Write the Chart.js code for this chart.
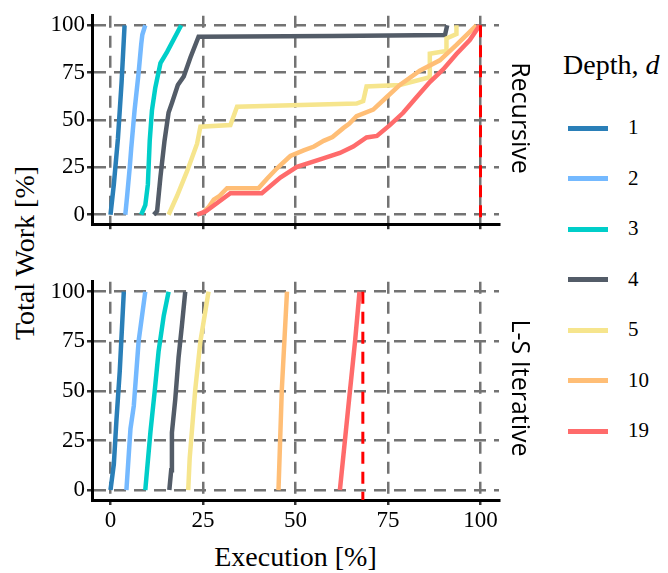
<!DOCTYPE html>
<html><head><meta charset="utf-8">
<script src="https://cdn.jsdelivr.net/npm/chart.js@4"></script>
<style>
body{margin:0;background:#fff;width:668px;height:573px;overflow:hidden;position:relative;font-family:"Liberation Serif","Times New Roman",serif;}
canvas{position:absolute}
.t{position:absolute;white-space:nowrap;color:#000;line-height:1}
.facet{font-family:"Open Sans",sans-serif;font-size:25px}
.lg{position:absolute;left:568px;width:40px;height:5px}
.ll{position:absolute;left:628px;font-size:21px;line-height:21px}
</style></head><body>
<canvas id="c1" style="left:40px;top:0;width:470px;height:240px" width="470" height="240"></canvas>
<canvas id="c2" style="left:40px;top:266px;width:470px;height:274px" width="470" height="274"></canvas>
<div class="t" style="left:25px;top:253px;font-size:28px;transform:translate(-50%,-50%) rotate(-90deg)">Total Work [%]</div>
<div class="t" style="left:295.5px;top:543px;font-size:28px;line-height:28px;transform:translateX(-50%)">Execution [%]</div>
<div class="t facet" style="left:521px;top:118px;transform:translate(-50%,-50%) rotate(90deg)">Recursive</div>
<div class="t facet" style="left:521px;top:388px;transform:translate(-50%,-50%) rotate(90deg)">L-S Iterative</div>
<div class="t" style="left:563px;top:51px;font-size:28px;line-height:28px">Depth, <i>d</i></div>
<div id="legend"></div>
<script>
// ---- data ----
const depths = ['1', '2', '3', '4', '5', '10', '19'];
const colors = ['#2a7fb8', '#74b9ff', '#00cec9', '#535c68', '#f6e58d', '#ffbe76', '#ff6b6b'];
const xTicks = [0, 25, 50, 75, 100];
const yTicks = [0, 25, 50, 75, 100];

// Recursive panel: [execution %, total work %]
const rec_d1 = [[0,0],[0.9,16],[2,40],[3,70],[3.8,100]];
const rec_d2 = [[4,0],[4.5,10],[5.2,25],[5.6,35],[6.5,55],[7.6,75],[8.3,90],[8.6,95],[9.4,100]];
const rec_d3 = [[8.3,0],[9.4,5],[10.1,16],[10.6,39],[11.2,55],[12.1,67],[13.5,80],[15.3,86],[19.1,100]];
const rec_d4 = [[11.7,0],[12.6,2],[13.5,20],[14.6,39],[15.7,54],[16.6,59],[18.2,68.5],[19.8,73],[21.6,83],[23.8,94],[60,94.3],[90.4,94.8],[91,100]];
const rec_d5 = [[15.7,0],[18,10],[20.7,23],[23.4,37.5],[24.3,46.5],[32.4,47.3],[34.2,57],[66.5,58.7],[68.3,60],[69.2,67.7],[78.2,68.5],[86.3,72.6],[86.3,85],[90.8,86.5],[90.8,93],[93.5,95.4],[93.5,100]];
const rec_d10 = [[25,1],[26.5,4],[27.9,8],[29.5,10],[31.5,14],[40,14],[42.3,19],[45,24.5],[48.6,31],[52.2,34],[55,36],[57.6,39],[60,41],[62.9,45.7],[64.5,48],[66.5,52],[71,55.5],[74.6,62],[78.2,68.5],[83.6,76],[89,81.5],[93.5,89.7],[98.9,100]];
const rec_d19 = [[23.4,0],[25.6,1.6],[32.4,11.4],[40.9,11.4],[45.9,19.6],[50.4,25.3],[57.5,29.7],[62,32.6],[65.6,36],[69.2,40.8],[72,41.6],[75.5,47.3],[79.1,53.8],[82.7,62],[86.3,70],[89.9,76.7],[93.5,84.8],[97.1,92.2],[99.8,100]];
const rec_vline = 100;

// L-S Iterative panel
const it_d1 = [[0,0],[0.9,13],[1.6,35],[2.5,60],[3.6,100]];
const it_d2 = [[4.3,0],[5.4,31],[6.3,42.5],[7.6,75],[9.4,100]];
const it_d3 = [[9.4,0],[10.8,29.4],[11.9,49],[13,70],[14.4,88],[15.7,100]];
const it_d4 = [[15.9,0],[16.4,10],[16.6,29],[17.5,45.7],[18.4,67],[19.3,83],[20.2,100]];
const it_d5 = [[21,0],[21.4,16],[22.9,50.6],[24.3,75],[26.5,100]];
const it_d10 = [[45.4,0],[46.3,50.6],[47.7,100]];
const it_d19 = [[62,0],[64.3,42.4],[66.1,75],[67.3,100]];
const it_vline = 68.2;

const recSeries = [rec_d1, rec_d2, rec_d3, rec_d4, rec_d5, rec_d10, rec_d19];
const itSeries = [it_d1, it_d2, it_d3, it_d4, it_d5, it_d10, it_d19];

// ---- legend ----
const legend = document.getElementById('legend');
depths.forEach((d, i) => {
  const c = 128 + i * 50.5;
  const line = document.createElement('div');
  line.className = 'lg';
  line.style.top = (c - 2.5) + 'px';
  line.style.background = colors[i];
  legend.appendChild(line);
  const lab = document.createElement('div');
  lab.className = 't ll';
  lab.style.top = (c - 11) + 'px';
  lab.textContent = d;
  legend.appendChild(lab);
});

// ---- charts ----
const FONT = "'Liberation Serif', 'Times New Roman', serif";
function makeChart(id, series, vline, showXLabels, xAxisHeight, padTop) {
  const datasets = series.map((pts, i) => ({
    data: pts.map(p => ({x: p[0], y: p[1]})),
    borderColor: colors[i],
    borderWidth: 4.5,
    pointRadius: 0,
    tension: 0,
    fill: false,
    order: 10 - i
  }));
  datasets.push({
    data: [{x: vline, y: 100}, {x: vline, y: -5}],
    borderColor: '#ff0000',
    borderWidth: 3,
    borderDash: [12, 8],
    pointRadius: 0,
    fill: false,
    order: 0
  });
  const gridOpts = {color: '#737373', lineWidth: 2.5, tickLength: 5, tickColor: '#333', tickWidth: 2.5};
  const borderOpts = {color: '#000', width: 3, dash: [12, 8]};
  new Chart(document.getElementById(id), {
    type: 'line',
    data: {datasets},
    options: {
      responsive: false,
      animation: false,
      events: [],
      layout: {padding: {top: padTop, right: 11, left: 0, bottom: 0}},
      plugins: {legend: {display: false}, tooltip: {enabled: false}},
      scales: {
        x: {
          type: 'linear', min: -5, max: 105,
          afterBuildTicks: s => { s.ticks = xTicks.map(v => ({value: v})); },
          afterFit: s => { s.height = xAxisHeight; },
          grid: gridOpts, border: borderOpts,
          ticks: {display: showXLabels, color: '#000', padding: 2, maxRotation: 0,
                  font: {family: FONT, size: 23}}
        },
        y: {
          type: 'linear', min: -5, max: 105,
          afterBuildTicks: s => { s.ticks = yTicks.map(v => ({value: v})); },
          afterFit: s => { s.width = 52; },
          grid: gridOpts, border: borderOpts,
          ticks: {color: '#000', padding: 2, font: {family: FONT, size: 23}}
        }
      }
    }
  });
}
makeChart('c1', recSeries, rec_vline, false, 10, 6);
makeChart('c2', itSeries, it_vline, true, 40, 10);
</script>
</body></html>
